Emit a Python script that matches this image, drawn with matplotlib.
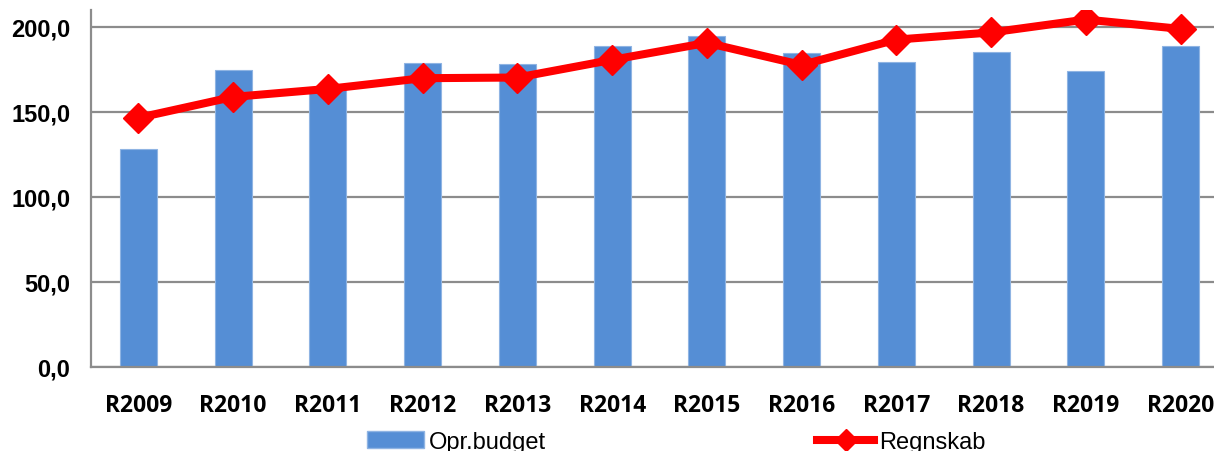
import numpy as np
import matplotlib
matplotlib.use('Agg')
import matplotlib.pyplot as plt
from matplotlib.lines import Line2D
from matplotlib.patches import Patch

# data
years = ['R2009', 'R2010', 'R2011', 'R2012', 'R2013', 'R2014',
         'R2015', 'R2016', 'R2017', 'R2018', 'R2019', 'R2020']
budget = [128.2, 174.7, 164.9, 178.8, 178.4, 188.6,
          194.9, 184.7, 179.6, 185.3, 174.1, 188.8]
regnskab = [146.5, 158.8, 163.5, 169.8, 170.2, 180.6,
            190.6, 177.6, 192.5, 196.7, 204.3, 198.8]

x = np.arange(len(years))

fig = plt.figure(figsize=(12.14, 4.52), dpi=100)
# axes runs a bit past the right edge, like the original picture
ax = fig.add_axes([0.075, 0.186, 0.9365, 0.79])

ax.bar(x, budget, width=0.39, color='#558ED5', edgecolor='#8FB4E3', linewidth=0.8, zorder=2)
ax.plot(x, regnskab, color='#FF0000', linewidth=5.8, marker='D', markersize=15, zorder=3)

# axes limits
ax.set_xlim(-0.5, len(years) - 0.5)
ax.set_ylim(0, 210)

# ticks and labels
ax.set_yticks([0, 50, 100, 150, 200])
ax.set_yticklabels(['0,0', '50,0', '100,0', '150,0', '200,0'],
                   fontsize=17, fontweight='bold', family='Liberation Sans')
ax.set_xticks(x)
ax.set_xticklabels(years, fontsize=16.5, fontweight='bold', family='Open Sans')
ax.tick_params(axis='y', length=0, pad=15)
ax.tick_params(axis='x', length=0, pad=19)

# grid and spines
ax.grid(axis='y', color='#8C8C8C', linewidth=1.6, zorder=0)
ax.set_axisbelow(True)
ax.spines['top'].set_visible(False)
ax.spines['right'].set_visible(False)
ax.spines['left'].set_color('#8C8C8C')
ax.spines['bottom'].set_color('#8C8C8C')
ax.spines['left'].set_linewidth(1.6)
ax.spines['bottom'].set_linewidth(1.6)

# legend below the chart
handles = [Patch(facecolor='#558ED5', edgecolor='#8FB4E3'),
           Line2D([], [], color='#FF0000', linewidth=5.8, marker='D', markersize=11)]
fig.legend(handles, ['Opr.budget', 'Regnskab'], loc='center', bbox_to_anchor=(0.557, 0.02),
           ncol=2, frameon=False, columnspacing=11.5, handlelength=2.4, handletextpad=0.2,
           prop={'family': 'Liberation Sans', 'size': 17})

fig.savefig('out.png', dpi=100)
